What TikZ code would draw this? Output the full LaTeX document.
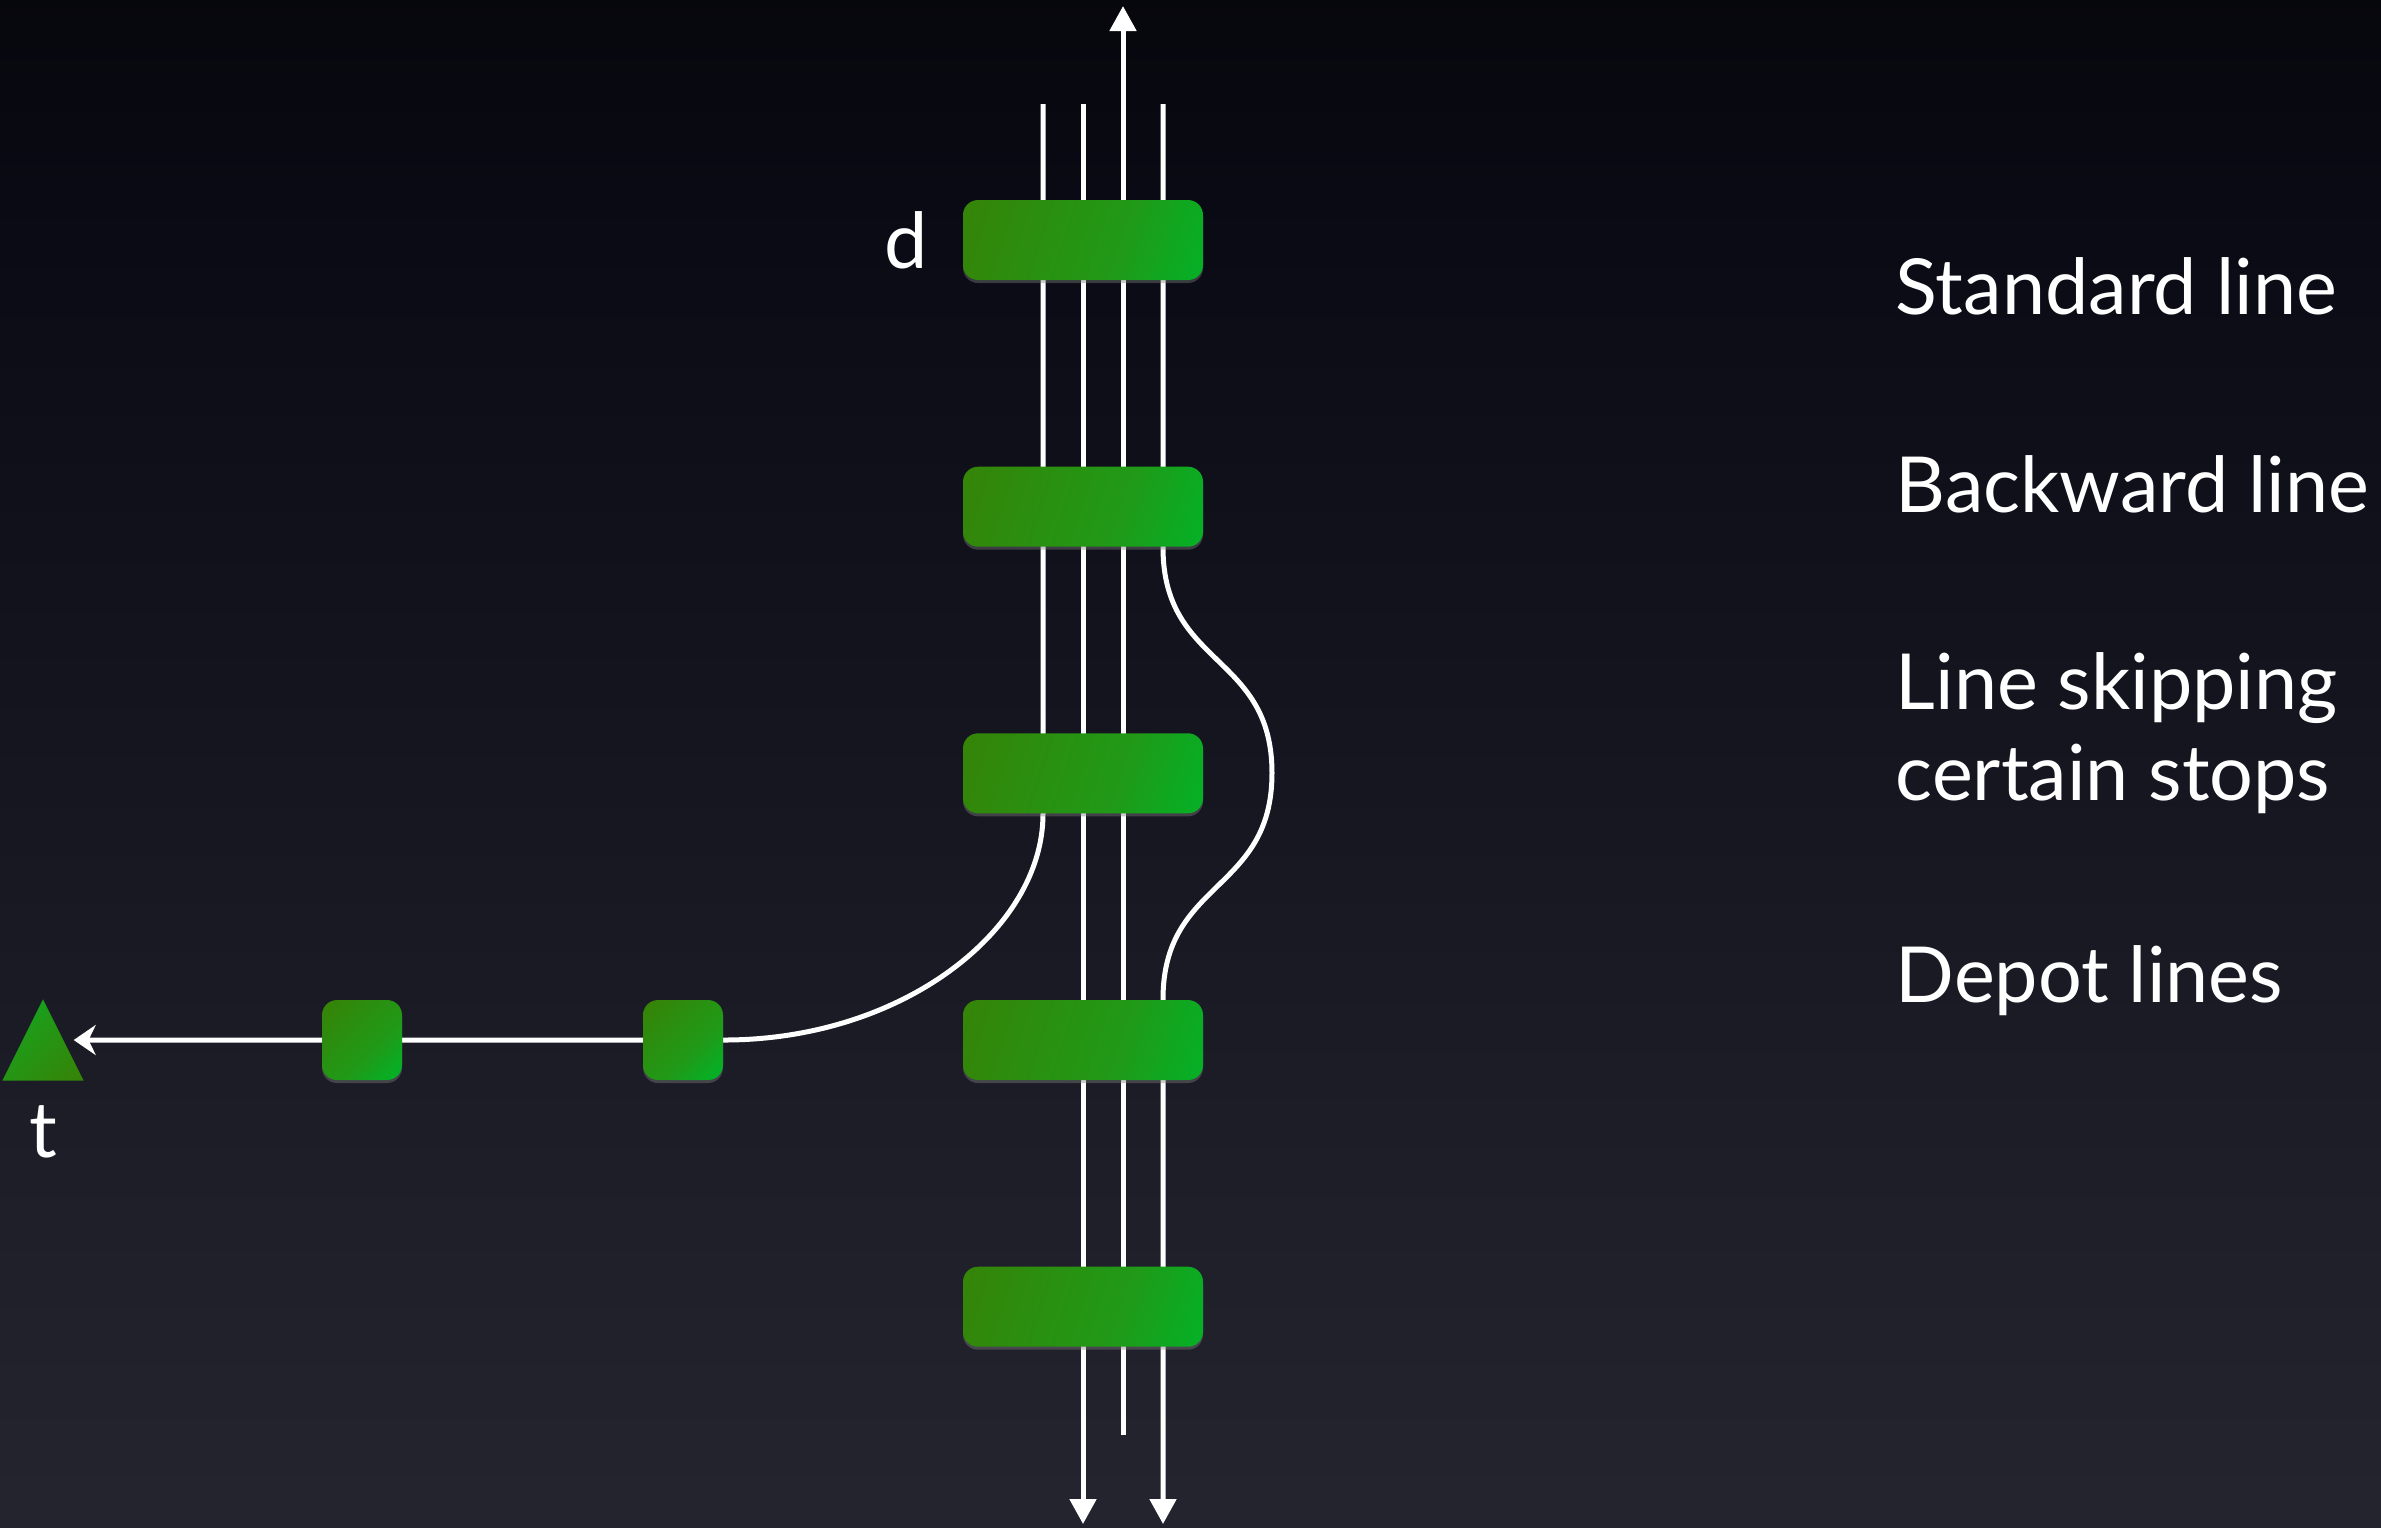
\documentclass[tikz,border=0pt]{standalone}
\usepackage{fontspec}
\setmainfont{Lato}
\usetikzlibrary{arrows.meta,positioning,shadows}

\definecolor{bgbottom}{RGB}{50,50,60}
\definecolor{bgmid}{RGB}{31,31,42}
\definecolor{bgdark}{RGB}{11,11,22}
\definecolor{stopolive}{RGB}{62,122,0}
\definecolor{stopmid}{RGB}{32,154,24}
\definecolor{stopgreen}{RGB}{0,180,40}
\definecolor{stopbright}{RGB}{0,210,66}

\pgfdeclareverticalshading{backdrop}{100bp}{color(0bp)=(bgbottom); color(35bp)=(bgmid); color(67bp)=(bgdark); color(86bp)=(black); color(100bp)=(black)}
\pgfdeclarehorizontalshading{stopfill}{100bp}{color(0bp)=(stopolive); color(60bp)=(stopmid); color(84bp)=(stopgreen); color(100bp)=(stopbright)}

\pgfdeclarelayer{bg}
\pgfdeclarelayer{lines}
\pgfsetlayers{bg,lines,main}

\tikzset{
  stopbox/.style={shade, shading=stopfill, shading angle=-18, rounded corners=1.5mm,
    minimum width=24mm, minimum height=8mm, inner sep=0pt,
    drop shadow={opacity=0.4, shadow xshift=0pt, shadow yshift=-0.3mm}},
  depotbox/.style={stopbox, minimum width=8mm, shading angle=-45},
  track/.style={white, line width=0.5mm},
  textlabel/.style={text=white, inner sep=0pt, font=\fontsize{22pt}{27pt}\selectfont}
}

\begin{document}
\begin{tikzpicture}[x=0.1mm, y=-0.1mm]
\path[use as bounding box] (0,0) rectangle (2381,1527);
\begin{pgfonlayer}{bg}
\shade[shading=backdrop] (0,0) rectangle (2381,1527);
\end{pgfonlayer}

% stops on the trunk
\foreach \i/\y in {1/240,2/506.7,3/773.3,4/1040,5/1306.7}
  \node[stopbox] (S\i) at (1083,\y) {};
% depot side
\node[depotbox] (D2) at (683,1040) {};
\node[depotbox] (D1) at (362,1040) {};
\node[minimum width=8mm, minimum height=8mm, inner sep=0pt] (t) at (43,1040) {};
\shade[shading=stopfill, shading angle=135] (t.south west) -- (t.north) -- (t.south east) -- cycle;

\node[textlabel, left=3.4mm of S1] (dlabel) {d};
\node[textlabel, below=2.4mm of t] (tlabel) {t};

\node[textlabel, anchor=base west] (std) at (1895,314) {Standard line};
\node[textlabel, anchor=base west] (back) at (1895,512) {Backward line};
\node[textlabel, anchor=base west] (skip) at (1895,709) {Line skipping};
\node[textlabel, anchor=base west] (skip2) at (1895,800) {certain stops};
\node[textlabel, anchor=base west] (depot) at (1895,1002) {Depot lines};

\coordinate (L1) at (1043,104);
\coordinate (L2) at (1083,104);
\coordinate (L3a) at (1123,1435);
\coordinate (L3b) at (1123,6);
\coordinate (L4) at (1163,104);
\coordinate (E2) at (1083,1524);
\coordinate (E4) at (1163,1524);
\coordinate (bulge) at (1272,773);

\begin{pgfonlayer}{lines}
\draw[track, -{Stealth[length=2.2mm, width=3mm]}, shorten >=-1mm]
  (L1) -- (L1 |- S3.south) .. controls +(0,115) and +(180,0) .. (D2.east) -- (t);
\draw[track, -{Triangle[length=2.5mm, width=2.6mm]}] (L2) -- (E2);
\draw[track, -{Triangle[length=2.5mm, width=2.6mm]}] (L3a) -- (L3b);
\draw[track, -{Triangle[length=2.5mm, width=2.6mm]}]
  (L4) -- (L4 |- S2.south) .. controls +(0,120) and +(0,-120) .. (bulge)
  .. controls +(0,120) and +(0,-120) .. (L4 |- S4.north) -- (E4);
\end{pgfonlayer}
\end{tikzpicture}
\end{document}
